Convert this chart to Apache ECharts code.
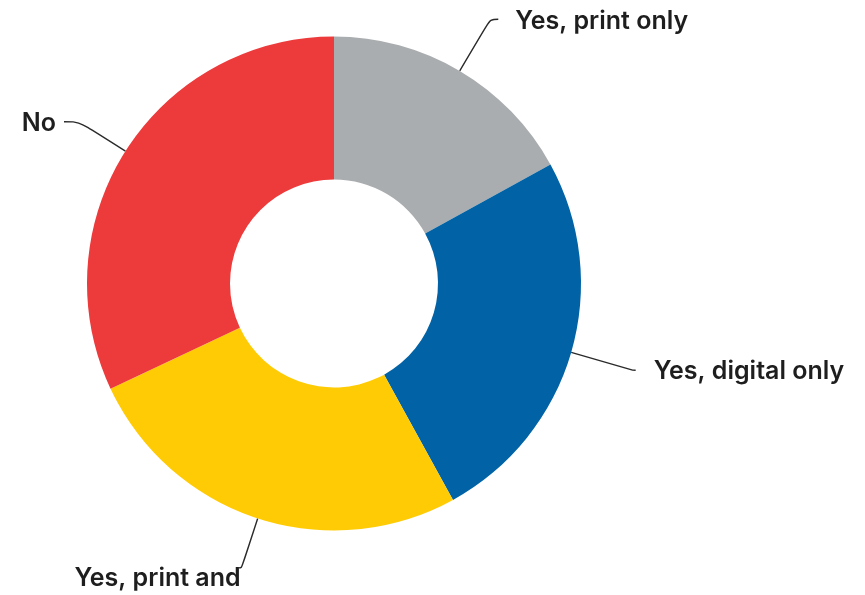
<!DOCTYPE html>
<html>
<head>
<meta charset="utf-8">
<script src="https://cdn.jsdelivr.net/npm/echarts@6/dist/echarts.min.js"></script>
<style>
  html, body { margin: 0; padding: 0; background: #fff; }
  #chart { width: 865px; height: 595px; }
</style>
</head>
<body>
<div id="chart"></div>
<script>
// Survey answers, clockwise from twelve o'clock
const categories = ['Yes, print only', 'Yes, digital only', 'Yes, print and', 'No'];
const shares = [17, 25, 26, 32];
const colors = ['#aaadaf', '#0163a6', '#ffcb05', '#ed3a3b'];

// Leader line per slice: radial length, horizontal length, gap to text, text nudges
const leaders = {
  'Yes, print only':   { len: 60, len2: 8,  gap: 17, dx: 0, dy: 2 },
  'Yes, digital only': { len: 64, len2: 3,  gap: 18, dx: 0, dy: 1 },
  'Yes, print and':    { len: 52, len2: 3,  gap: 2,  dx: 4, dy: 11 },
  'No':                { len: 55, len2: 15, gap: 7,  dx: -1, dy: 2 }
};

const chart = echarts.init(document.getElementById('chart'));

chart.setOption({
  animation: false,
  series: [{
    type: 'pie',
    center: [334, 283.5],
    radius: [104, 247],
    startAngle: 90,
    clockwise: true,
    avoidLabelOverlap: false,
    itemStyle: { borderWidth: 0 },
    label: {
      show: true,
      position: 'outside',
      alignTo: 'none',
      bleedMargin: 0,
      overflow: 'none',
      color: '#1e1e1e',
      fontFamily: 'Inter',
      fontWeight: 600,
      fontSize: 25,
      formatter: '{b}'
    },
    labelLine: {
      show: true,
      smooth: 0.35,
      lineStyle: { color: '#2a2a2a', width: 1.4 }
    },
    labelLayout: function (params) {
      const l = leaders[categories[params.dataIndex]];
      return { dx: l.dx, dy: l.dy };
    },
    emphasis: { disabled: true },
    data: categories.map((name, i) => {
      const l = leaders[name];
      return {
        name,
        value: shares[i],
        itemStyle: { color: colors[i] },
        label: { distanceToLabelLine: l.gap },
        labelLine: { length: l.len, length2: l.len2 }
      };
    })
  }]
});
</script>
</body>
</html>
